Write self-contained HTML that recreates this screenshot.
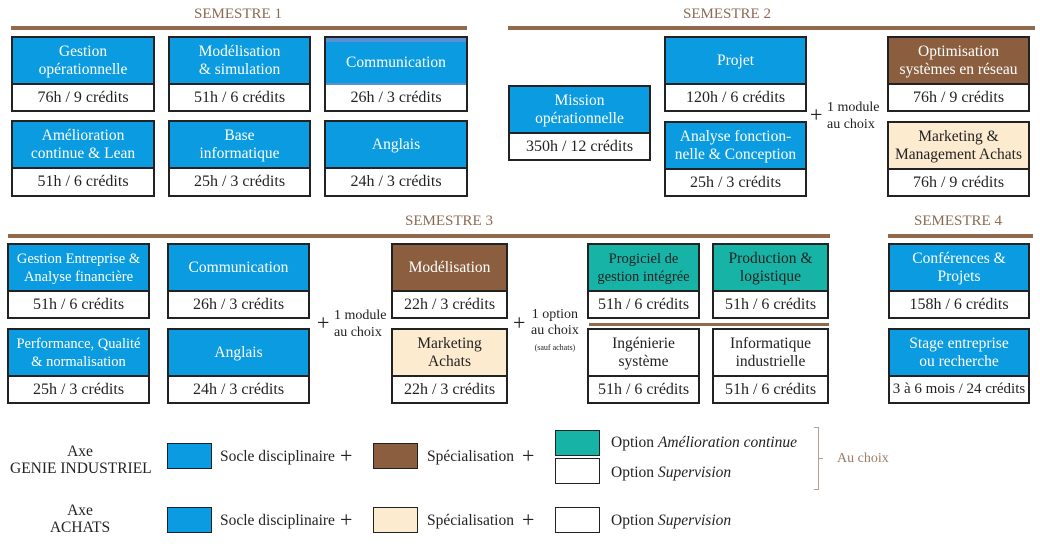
<!DOCTYPE html>
<html><head><meta charset="utf-8"><style>
*{box-sizing:border-box;margin:0;padding:0}
body{width:1040px;height:550px;background:#fff;position:relative;overflow:hidden;font-family:"Liberation Serif","DejaVu Serif",serif;color:#222}
.b{position:absolute;border:2px solid #222;background:#fff}
.h{position:absolute;left:0;right:0;top:0;display:flex;align-items:center;justify-content:center;text-align:center;color:#fff;font-size:15.5px;line-height:18px;border-bottom:2px solid #222;white-space:nowrap}
.d{position:absolute;left:0;right:0;bottom:0;top:47px;display:flex;align-items:center;justify-content:center;font-size:16px;white-space:nowrap}
.bl{background:#0a9be0}.br{background:#8a5e3e}.cr{background:#fdebd0;color:#222}.tl{background:#17b3a6;color:#222}.wh{background:#fff;color:#222}
.t{position:absolute;color:#8b6a55;font-size:15px;transform:translateX(-50%);white-space:nowrap}
.ln{position:absolute;height:4px;background:#93694c}
.s{position:absolute;font-size:15.5px;line-height:17px;white-space:nowrap}
.p{position:absolute;font-size:22px;line-height:22px}
.sw{position:absolute;border:1.5px solid #222;width:45px;height:26px}
</style></head><body>
<div class="t" style="left:238px;top:6px">SEMESTRE 1</div>
<div class="ln" style="left:11px;top:26px;width:456px"></div>
<div class="t" style="left:727px;top:6px">SEMESTRE 2</div>
<div class="ln" style="left:508px;top:26px;width:527px"></div>
<div class="t" style="left:449px;top:213px">SEMESTRE 3</div>
<div class="ln" style="left:8px;top:234px;width:822px"></div>
<div class="t" style="left:958px;top:213px">SEMESTRE 4</div>
<div class="ln" style="left:888px;top:234px;width:145px"></div>

<!-- S1 -->
<div class="b" style="left:11px;top:36px;width:144px;height:76px"><div class="h bl" style="height:47px">Gestion<br>opérationnelle</div><div class="d">76h / 9 crédits</div></div>
<div class="b" style="left:168px;top:36px;width:143px;height:76px"><div class="h bl" style="height:47px">Modélisation<br>&amp; simulation</div><div class="d">51h / 6 crédits</div></div>
<div class="b" style="left:324px;top:36px;width:144px;height:76px"><div class="h bl" style="height:47px;border-top:4px solid #5d8fd3;border-bottom-color:#5d8fd3">Communication</div><div class="d">26h / 3 crédits</div></div>
<div class="b" style="left:11px;top:120px;width:144px;height:77px"><div class="h bl" style="height:47px">Amélioration<br>continue &amp; Lean</div><div class="d">51h / 6 crédits</div></div>
<div class="b" style="left:168px;top:120px;width:143px;height:77px"><div class="h bl" style="height:47px">Base<br>informatique</div><div class="d">25h / 3 crédits</div></div>
<div class="b" style="left:324px;top:120px;width:144px;height:77px"><div class="h bl" style="height:47px">Anglais</div><div class="d">24h / 3 crédits</div></div>

<!-- S2 -->
<div class="b" style="left:508px;top:85px;width:143px;height:76px"><div class="h bl" style="height:47px">Mission<br>opérationnelle</div><div class="d">350h / 12 crédits</div></div>
<div class="b" style="left:664px;top:36px;width:143px;height:76px"><div class="h bl" style="height:47px">Projet</div><div class="d">120h / 6 crédits</div></div>
<div class="b" style="left:664px;top:121px;width:143px;height:76px"><div class="h bl" style="height:47px">Analyse fonction-<br>nelle &amp; Conception</div><div class="d">25h / 3 crédits</div></div>
<div class="p" style="left:810px;top:104px">+</div>
<div class="s" style="left:827px;top:99px;font-size:14px;line-height:17px">1 module<br>au choix</div>
<div class="b" style="left:887px;top:36px;width:143px;height:76px"><div class="h br" style="height:47px">Optimisation<br>systèmes en réseau</div><div class="d">76h / 9 crédits</div></div>
<div class="b" style="left:887px;top:121px;width:143px;height:76px"><div class="h cr" style="height:47px">Marketing &amp;<br>Management Achats</div><div class="d">76h / 9 crédits</div></div>

<!-- S3 -->
<div class="b" style="left:7px;top:243px;width:143px;height:76px"><div class="h bl" style="height:47px;font-size:14.5px">Gestion Entreprise &amp;<br>Analyse financière</div><div class="d">51h / 6 crédits</div></div>
<div class="b" style="left:7px;top:328px;width:143px;height:76px"><div class="h bl" style="height:47px;font-size:14.5px">Performance, Qualité<br>&amp; normalisation</div><div class="d">25h / 3 crédits</div></div>
<div class="b" style="left:167px;top:243px;width:143px;height:76px"><div class="h bl" style="height:47px">Communication</div><div class="d">26h / 3 crédits</div></div>
<div class="b" style="left:167px;top:328px;width:143px;height:76px"><div class="h bl" style="height:47px">Anglais</div><div class="d">24h / 3 crédits</div></div>
<div class="p" style="left:317px;top:312px">+</div>
<div class="s" style="left:334px;top:307px;font-size:14px">1 module<br>au choix</div>
<div class="b" style="left:391px;top:243px;width:117px;height:76px"><div class="h br" style="height:47px">Modélisation</div><div class="d">22h / 3 crédits</div></div>
<div class="b" style="left:391px;top:328px;width:117px;height:76px"><div class="h cr" style="height:47px">Marketing<br>Achats</div><div class="d">22h / 3 crédits</div></div>
<div class="p" style="left:513px;top:312px">+</div>
<div class="s" style="left:531px;top:307px;font-size:14px;text-align:center;line-height:16px">1 option<br>au choix<br><span style="font-size:8px;line-height:10px">(sauf achats)</span></div>
<div class="b" style="left:587px;top:243px;width:113px;height:76px"><div class="h tl" style="height:47px;font-size:14.5px">Progiciel de<br>gestion intégrée</div><div class="d">51h / 6 crédits</div></div>
<div class="b" style="left:712px;top:243px;width:117px;height:76px"><div class="h tl" style="height:47px">Production &amp;<br>logistique</div><div class="d">51h / 6 crédits</div></div>
<div class="ln" style="left:589px;top:323px;width:240px;height:3px"></div>
<div class="b" style="left:587px;top:328px;width:113px;height:76px"><div class="h wh" style="height:47px">Ingénierie<br>système</div><div class="d">51h / 6 crédits</div></div>
<div class="b" style="left:712px;top:328px;width:117px;height:76px"><div class="h wh" style="height:47px">Informatique<br>industrielle</div><div class="d">51h / 6 crédits</div></div>

<!-- S4 -->
<div class="b" style="left:888px;top:243px;width:142px;height:76px"><div class="h bl" style="height:47px">Conférences &amp;<br>Projets</div><div class="d">158h / 6 crédits</div></div>
<div class="b" style="left:888px;top:328px;width:142px;height:76px"><div class="h bl" style="height:47px">Stage entreprise<br>ou recherche</div><div class="d" style="font-size:15px">3 à 6 mois / 24 crédits</div></div>

<!-- Legend -->
<div class="s" style="left:10px;top:443px;width:140px;text-align:center">Axe<br>GENIE INDUSTRIEL</div>
<div class="sw bl" style="left:167px;top:443px"></div>
<div class="s" style="left:220px;top:448px">Socle disciplinaire</div>
<div class="p" style="left:340px;top:445px">+</div>
<div class="sw br" style="left:373px;top:443px"></div>
<div class="s" style="left:427px;top:448px">Spécialisation</div>
<div class="p" style="left:522px;top:445px">+</div>
<div class="sw tl" style="left:555px;top:430px"></div>
<div class="sw" style="left:555px;top:458px;background:#fff"></div>
<div class="s" style="left:611px;top:434px">Option <i>Amélioration continue</i></div>
<div class="s" style="left:611px;top:464px">Option <i>Supervision</i></div>
<div style="position:absolute;left:814px;top:427px;width:5px;height:63px;border:1px solid #b0a096;border-left:none"></div>
<div style="position:absolute;left:819px;top:458px;width:4px;height:1px;background:#b0a096"></div>
<div class="s" style="left:837px;top:450px;color:#9b7d68;font-size:14px">Au choix</div>

<div class="s" style="left:10px;top:502px;width:140px;text-align:center">Axe<br>ACHATS</div>
<div class="sw bl" style="left:167px;top:507px"></div>
<div class="s" style="left:220px;top:512px">Socle disciplinaire</div>
<div class="p" style="left:340px;top:509px">+</div>
<div class="sw cr" style="left:373px;top:507px"></div>
<div class="s" style="left:427px;top:512px">Spécialisation</div>
<div class="p" style="left:522px;top:509px">+</div>
<div class="sw" style="left:555px;top:507px;background:#fff"></div>
<div class="s" style="left:611px;top:512px">Option <i>Supervision</i></div>
</body></html>
